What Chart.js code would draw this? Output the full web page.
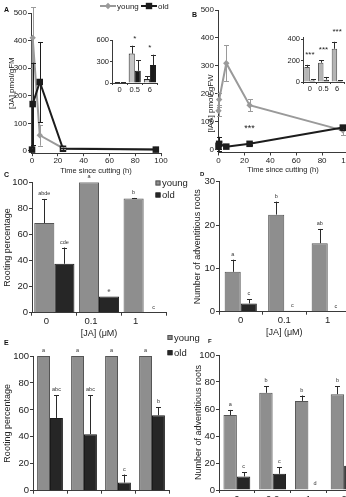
<!DOCTYPE html>
<html><head><meta charset="utf-8">
<script src="https://cdn.jsdelivr.net/npm/chart.js@4.4.0/dist/chart.umd.min.js"></script>
<style>
html,body{margin:0;padding:0;background:#fff;overflow:hidden;width:346px;height:497px;}
#wrap{position:relative;width:346px;height:497px;overflow:hidden;background:#fff;}
canvas{position:absolute;}
</style></head><body><div id="wrap"></div>
<script>
// ---------- data ----------
const times = [0, 0.5, 6, 24, 96];
const jaYoung = [5, 410, 57, 10, 5];
const jaYoungErr = [3, 110, 38, 4, 2];
const jaOld = [5, 170, 250, 8, 5];
const jaOldErr = [3, 150, 145, 4, 2];
const iaaYoung = [140, 180, 310, 160, 70];
const iaaYoungErr = [20, 25, 65, 22, 18];
const iaaOld = [15, 22, 12, 22, 80];
const iaaOldErr = [12, 25, 5, 5, 8];
const insetCats = ['0', '0.5', '6'];
const jaStars = ['', '*', '*'];
const iaaStars = ['***', '***', '***'];
const iaaNote = {x: 24, y: 83, text: '***'};

const jaConc = ['0', '0.1', '1'];
const rootYoungC = [68.75, 100, 87.5];
const rootYoungCErr = [18.5, 0, 0.5];
const rootOldC = [37.5, 12.5, 0];
const rootOldCErr = [12.5, 0, 0];
const lettersYoungC = ['abde', 'a', 'b'];
const lettersOldC = ['cde', 'e', 'c'];

const numYoungD = [9.2, 22.4, 15.8];
const numYoungDErr = [2.8, 3.0, 3.3];
const numOldD = [1.9, 0.2, 0];
const numOldDErr = [1.0, 0, 0];
const lettersYoungD = ['a', 'b', 'ab'];
const lettersOldD = ['c', 'c', 'c'];

const concEF = ['0', '0.2', '1', '2'];
const rootYoungE = [100, 100, 100, 100];
const rootOldE = [54, 42, 6, 56];
const rootOldEErr = [17, 29, 6, 6];
const lettersYoungE = ['a', 'a', 'a', 'a'];
const lettersOldE = ['abc', 'abc', 'c', 'b'];

const numYoungF = [55.5, 72, 66, 71];
const numYoungFErr = [3.8, 4.8, 4, 6];
const numOldF = [10, 12, 0.4, 18];
const numOldFErr = [3.3, 5, 0, 3];
const lettersYoungF = ['a', 'b', 'b', 'b'];
const lettersOldF = ['c', 'c', 'd', ''];

// tick values
const hormoneTicks = [0, 100, 200, 300, 400, 500];
const timeTicks = [0, 20, 40, 60, 80, 100];
const insetJaTicks = [0, 300, 600];
const insetIaaTicks = [0, 200, 400];
const pctTicks = [0, 20, 40, 60, 80, 100];
const rootNumDTicks = [0, 10, 20, 30];
const rootNumFTicks = [0, 20, 40, 60, 80, 100];

// ---------- setup ----------
const FONT = '"Liberation Sans", Arial, Helvetica, sans-serif';
Chart.defaults.font.family = FONT;
Chart.defaults.color = '#222';
const YOUNG_LINE = '#9a9a9a', OLD_LINE = '#1c1c1c';
const YOUNG_BAR = '#8e8e8e', OLD_BAR = '#262626';
const AXIS = '#3a3a3a';

function mk(left, top, w, h) {
  const c = document.createElement('canvas');
  c.width = w; c.height = h;
  c.style.left = left + 'px'; c.style.top = top + 'px';
  c.style.width = w + 'px'; c.style.height = h + 'px';
  document.getElementById('wrap').appendChild(c);
  return c;
}
function fix(o) {
  return function (s) {
    if (o.w !== undefined) s.width = o.w;
    if (o.h !== undefined) s.height = o.h;
    s.paddingTop = 0; s.paddingBottom = 0; s.paddingLeft = 0; s.paddingRight = 0;
  };
}
function setTicks(arr) {
  return function (s) { s.ticks = arr.map(v => ({value: v})); };
}
function linY(o) {
  return {
    type: 'linear', position: 'left', min: o.min, max: o.max,
    ticks: {font: {size: o.fs || 9.5}, padding: 1, color: '#222'},
    afterBuildTicks: setTicks(o.ticks),
    grid: {drawOnChartArea: false, drawTicks: true, tickLength: o.tl || 3, color: AXIS},
    border: {color: AXIS, width: 1},
    title: o.title ? {display: true, text: o.title, font: {size: o.tfs || 9}, padding: {top: o.tpad || 0, bottom: 0}, color: '#222'} : {display: false},
    afterFit: fix({w: o.w})
  };
}
function linX(o) {
  return {
    type: 'linear', position: 'bottom', min: o.min, max: o.max,
    ticks: {font: {size: o.fs || 8}, padding: 0, color: '#222', maxRotation: 0},
    afterBuildTicks: setTicks(o.ticks),
    grid: {drawOnChartArea: false, drawTicks: true, tickLength: 3, color: AXIS},
    border: {color: AXIS, width: 1},
    title: o.title ? {display: true, text: o.title, font: {size: o.tfs || 8}, padding: {top: 0, bottom: 0}, color: '#222'} : {display: false},
    afterFit: fix({h: o.h})
  };
}
function catX(o) {
  return {
    type: 'category', position: 'bottom', offset: true,
    ticks: {font: {size: o.fs || 9.5}, padding: o.tp || 0, color: '#222', maxRotation: 0, autoSkip: false, labelOffset: o.lo || 0},
    grid: {offset: true, drawOnChartArea: false, drawTicks: true, tickLength: o.tl || 3, color: AXIS},
    border: {color: AXIS, width: 1},
    title: o.title ? {display: true, text: o.title, font: {size: o.tfs || 9}, padding: {top: 0, bottom: 0}, color: '#222'} : {display: false},
    afterFit: fix({h: o.h})
  };
}
function opts(pad, x, y) {
  return {
    responsive: false, animation: false, devicePixelRatio: 1, events: [],
    layout: {padding: pad},
    plugins: {legend: {display: false}, tooltip: {enabled: false}, title: {display: false}},
    scales: {x: x, y: y}
  };
}
function extras(conf) {
  return {
    id: 'extras',
    afterDatasetsDraw(chart) {
      const ctx = chart.ctx, ys = chart.scales.y, xs = chart.scales.x;
      ctx.save();
      const tops = [];
      chart.data.datasets.forEach((ds, i) => {
        const meta = chart.getDatasetMeta(i);
        meta.data.forEach((el, j) => {
          const raw = ds.data[j];
          const v = (raw !== null && typeof raw === 'object') ? raw.y : raw;
          let top = el.y;
          const e = ds.err ? ds.err[j] : 0;
          if (e) {
            const yT = ys.getPixelForValue(v + e);
            const yB = ds.errBoth ? ys.getPixelForValue(v - e) : el.y;
            const x = Math.round(el.x) + 0.5;
            const c = ds.cap || 2.5;
            ctx.strokeStyle = ds.errColor || '#2a2a2a';
            ctx.lineWidth = 1;
            ctx.beginPath();
            ctx.moveTo(x, yB); ctx.lineTo(x, yT);
            ctx.moveTo(x - c, Math.round(yT) + 0.5); ctx.lineTo(x + c, Math.round(yT) + 0.5);
            if (ds.errBoth) { ctx.moveTo(x - c, Math.round(yB) + 0.5); ctx.lineTo(x + c, Math.round(yB) + 0.5); }
            ctx.stroke();
            top = Math.min(top, yT);
          }
          if (!tops[j]) tops[j] = {top: top, xs: [el.x]};
          else { tops[j].top = Math.min(tops[j].top, top); tops[j].xs.push(el.x); }
          if (ds.letters && ds.letters[j]) {
            ctx.fillStyle = '#333';
            ctx.font = (conf.letterSize || 5.5) + 'px ' + FONT;
            ctx.textAlign = 'center'; ctx.textBaseline = 'alphabetic';
            ctx.fillText(ds.letters[j], el.x, top - (conf.letterGap || 4));
          }
        });
      });
      ctx.fillStyle = '#222';
      ctx.textAlign = 'center'; ctx.textBaseline = 'alphabetic';
      if (conf.stars) {
        ctx.font = (conf.starSize || 8) + 'px ' + FONT;
        conf.stars.forEach((s, j) => {
          if (!s || !tops[j]) return;
          const cx = tops[j].xs.reduce((a, b) => a + b, 0) / tops[j].xs.length;
          ctx.fillText(s, cx, tops[j].top - (conf.starGap || 5));
        });
      }
      if (conf.note) {
        ctx.font = (conf.starSize || 8) + 'px ' + FONT;
        ctx.fillText(conf.note.text, xs.getPixelForValue(conf.note.x), ys.getPixelForValue(conf.note.y) + 4);
      }
      if (conf.legend) {
        conf.legend.forEach(it => {
          ctx.textAlign = 'left'; ctx.textBaseline = 'middle';
          if (it.type === 'line') {
            ctx.strokeStyle = it.color; ctx.lineWidth = 2;
            ctx.beginPath(); ctx.moveTo(it.x1, it.y); ctx.lineTo(it.x2, it.y); ctx.stroke();
            const mx = (it.x1 + it.x2) / 2;
            ctx.fillStyle = it.color;
            ctx.beginPath();
            if (it.marker === 'diamond') {
              ctx.moveTo(mx, it.y - 3.2); ctx.lineTo(mx + 3.2, it.y); ctx.lineTo(mx, it.y + 3.2); ctx.lineTo(mx - 3.2, it.y);
              ctx.closePath();
            } else {
              ctx.rect(mx - 3.2, it.y - 3.2, 6.4, 6.4);
            }
            ctx.fill();
          } else {
            ctx.fillStyle = it.color;
            ctx.fillRect(it.x1, it.y - it.s / 2, it.s, it.s);
            ctx.strokeStyle = it.border || it.color; ctx.lineWidth = 1;
            ctx.strokeRect(it.x1 + 0.5, it.y - it.s / 2 + 0.5, it.s - 1, it.s - 1);
          }
          ctx.fillStyle = '#222';
          ctx.font = it.fs + 'px ' + FONT;
          ctx.fillText(it.text, it.tx, it.y + 0.5);
        });
      }
      if (conf.panel) {
        ctx.fillStyle = '#111';
        ctx.font = 'bold ' + (conf.panel.fs || 7) + 'px ' + FONT;
        ctx.textAlign = 'left'; ctx.textBaseline = 'middle';
        ctx.fillText(conf.panel.text, conf.panel.x, conf.panel.y);
      }
      ctx.restore();
    }
  };
}
function lineDs(label, xsArr, ysArr, errs, color, style, r, order) {
  return {
    label: label, data: xsArr.map((t, i) => ({x: t, y: ysArr[i]})), err: errs, errBoth: true, errColor: color,
    borderColor: color, backgroundColor: color, borderWidth: 2, pointStyle: style, pointRadius: r,
    pointBorderWidth: 0, pointBackgroundColor: color, tension: 0, order: order, clip: false, cap: 2.5
  };
}
function barDs(label, vals, errs, letters, fill, border, cp, bp) {
  return {
    label: label, data: vals, err: errs, letters: letters, backgroundColor: fill, borderColor: border,
    borderWidth: 1, categoryPercentage: cp, barPercentage: bp, cap: 2.5
  };
}

// ---------- A main ----------
new Chart(mk(0, 0, 170, 180), {
  type: 'line',
  data: {datasets: [
    lineDs('young', times, jaYoung, jaYoungErr, YOUNG_LINE, 'rectRot', 3.2, 2),
    lineDs('old', times, jaOld, jaOldErr, OLD_LINE, 'rect', 4.6, 1)
  ]},
  options: opts({left: 0, right: 9, top: 13, bottom: 4.8},
    linX({min: -0.8, max: 100, ticks: timeTicks, h: 22, title: 'Time since cutting (h)', tfs: 7.5}),
    linY({min: -8, max: 500, ticks: hormoneTicks, w: 31, fs: 8, title: '[JA] pmol/gFM', tfs: 8, tpad: 6.6})),
  plugins: [extras({
    legend: [
      {type: 'line', color: YOUNG_LINE, marker: 'diamond', x1: 100, x2: 116, y: 6, text: 'young', tx: 117, fs: 8},
      {type: 'line', color: OLD_LINE, marker: 'square', x1: 141, x2: 157, y: 6, text: 'old', tx: 158, fs: 8}
    ],
    panel: {text: 'A', x: 4, y: 10}
  })]
});

// ---------- B main ----------
new Chart(mk(170, 0, 200, 180), {
  type: 'line',
  data: {datasets: [
    lineDs('young', times, iaaYoung, iaaYoungErr, YOUNG_LINE, 'rectRot', 3.2, 2),
    lineDs('old', times, iaaOld, iaaOldErr, OLD_LINE, 'rect', 4.6, 1)
  ]},
  options: opts({left: 0, right: 22, top: 10, bottom: 5.5},
    linX({min: -0.4, max: 100, ticks: timeTicks, h: 22, title: 'Time since cutting (h)', tfs: 7.5}),
    linY({min: -9, max: 500, ticks: hormoneTicks, w: 48, fs: 8,
          title: '[IAA] pmol/ gFW\u00a0\u00a0\u00a0\u00a0\u00a0\u00a0\u00a0\u00a0\u00a0\u00a0\u00a0\u00a0\u00a0\u00a0\u00a0\u00a0\u00a0\u00a0\u00a0\u00a0',
          tfs: 8, tpad: 36})),
  plugins: [extras({note: iaaNote, starSize: 9, panel: {text: 'B', x: 22, y: 15}})]
});

// ---------- A inset ----------
new Chart(mk(85, 25, 80, 75), {
  type: 'bar',
  data: {labels: insetCats, datasets: [
    barDs('young', jaYoung.slice(0, 3), jaYoungErr.slice(0, 3), null, '#c6c6c6', '#222', 0.8, 1),
    barDs('old', jaOld.slice(0, 3), jaOldErr.slice(0, 3), null, '#1a1a1a', '#1a1a1a', 0.8, 1)
  ]},
  options: opts({left: 0, right: 7.5, top: 15, bottom: 5},
    catX({h: 12, fs: 7.5, tl: 2}),
    linY({min: 0, max: 600, ticks: insetJaTicks, w: 27, fs: 7.5, tl: 2})),
  plugins: [extras({stars: jaStars, starSize: 8, starGap: 5})]
});

// ---------- B inset ----------
new Chart(mk(270, 25, 80, 75), {
  type: 'bar',
  data: {labels: insetCats, datasets: [
    barDs('young', iaaYoung.slice(0, 3), iaaYoungErr.slice(0, 3), null, '#b4b4b4', '#555', 0.8, 1),
    barDs('old', iaaOld.slice(0, 3), iaaOldErr.slice(0, 3), null, '#1a1a1a', '#1a1a1a', 0.8, 1)
  ]},
  options: opts({left: 0, right: 6, top: 12, bottom: 6},
    catX({h: 12, fs: 7.5, tl: 2}),
    linY({min: 0, max: 420, ticks: insetIaaTicks, w: 33, fs: 7.5, tl: 2})),
  plugins: [extras({stars: iaaStars, starSize: 8, starGap: 8})]
});

// ---------- C ----------
new Chart(mk(0, 168, 200, 174), {
  type: 'bar',
  data: {labels: jaConc, datasets: [
    barDs('young', rootYoungC, rootYoungCErr, lettersYoungC, YOUNG_BAR, '#555', 0.9, 1),
    barDs('old', rootOldC, rootOldCErr, lettersOldC, OLD_BAR, '#1a1a1a', 0.9, 1)
  ]},
  options: opts({left: 0, right: 34, top: 14.3, bottom: 3.3},
    catX({h: 26, title: '[JA] (μM)', lo: -8}),
    linY({min: 0, max: 100, ticks: pctTicks, w: 32, title: 'Rooting percentage', tfs: 9, tpad: 2.2})),
  plugins: [extras({
    legend: [
      {type: 'box', color: YOUNG_BAR, border: '#555', x1: 155.5, s: 5, y: 15, text: 'young', tx: 162, fs: 9.5},
      {type: 'box', color: OLD_BAR, x1: 155.5, s: 5, y: 27, text: 'old', tx: 162, fs: 9.5}
    ],
    panel: {text: 'C', x: 4, y: 7}
  })]
});

// ---------- D ----------
new Chart(mk(172, 168, 190, 174), {
  type: 'bar',
  data: {labels: jaConc, datasets: [
    barDs('young', numYoungD, numYoungDErr, lettersYoungD, YOUNG_BAR, '#555', 0.74, 1),
    barDs('old', numOldD, numOldDErr, lettersOldD, OLD_BAR, '#1a1a1a', 0.74, 1)
  ]},
  options: opts({left: 0, right: 12.5, top: 13.7, bottom: 4.3},
    catX({h: 26, title: '[JA] (μM)'}),
    linY({min: 0, max: 30, ticks: rootNumDTicks, w: 47, title: 'Number of adventitious roots', tfs: 9, tpad: 19.9})),
  plugins: [extras({panel: {text: 'D', x: 28, y: 6, fs: 6}})]
});

// ---------- E ----------
new Chart(mk(0, 334, 205, 180), {
  type: 'bar',
  data: {labels: concEF, datasets: [
    barDs('young', rootYoungE, null, lettersYoungE, YOUNG_BAR, '#555', 0.76, 1),
    barDs('old', rootOldE, rootOldEErr, lettersOldE, OLD_BAR, '#1a1a1a', 0.76, 1)
  ]},
  options: opts({left: 0, right: 36, top: 22, bottom: 1.3},
    catX({h: 22, tp: 1}),
    linY({min: 0, max: 100, ticks: pctTicks, w: 33, title: 'Rooting percentage', tfs: 9, tpad: 2})),
  plugins: [extras({
    legend: [
      {type: 'box', color: YOUNG_BAR, border: '#555', x1: 167.5, s: 5, y: 3.5, text: 'young', tx: 174, fs: 9.5},
      {type: 'box', color: OLD_BAR, x1: 167.5, s: 5, y: 18.7, text: 'old', tx: 174, fs: 9.5}
    ],
    panel: {text: 'E', x: 4, y: 9}
  })]
});

// ---------- F ----------
new Chart(mk(172, 334, 200, 180), {
  type: 'bar',
  data: {labels: concEF, datasets: [
    barDs('young', numYoungF, numYoungFErr, lettersYoungF, YOUNG_BAR, '#555', 0.75, 1),
    barDs('old', numOldF, numOldFErr, lettersOldF, OLD_BAR, '#1a1a1a', 0.75, 1)
  ]},
  options: opts({left: 0, right: 10, top: 21, bottom: 2},
    catX({h: 22, tp: 1}),
    linY({min: 0, max: 100, ticks: rootNumFTicks, w: 47, title: 'Number of adventitious roots', tfs: 9, tpad: 20.9})),
  plugins: [extras({panel: {text: 'F', x: 36, y: 7, fs: 6}})]
});
</script>
</body></html>
